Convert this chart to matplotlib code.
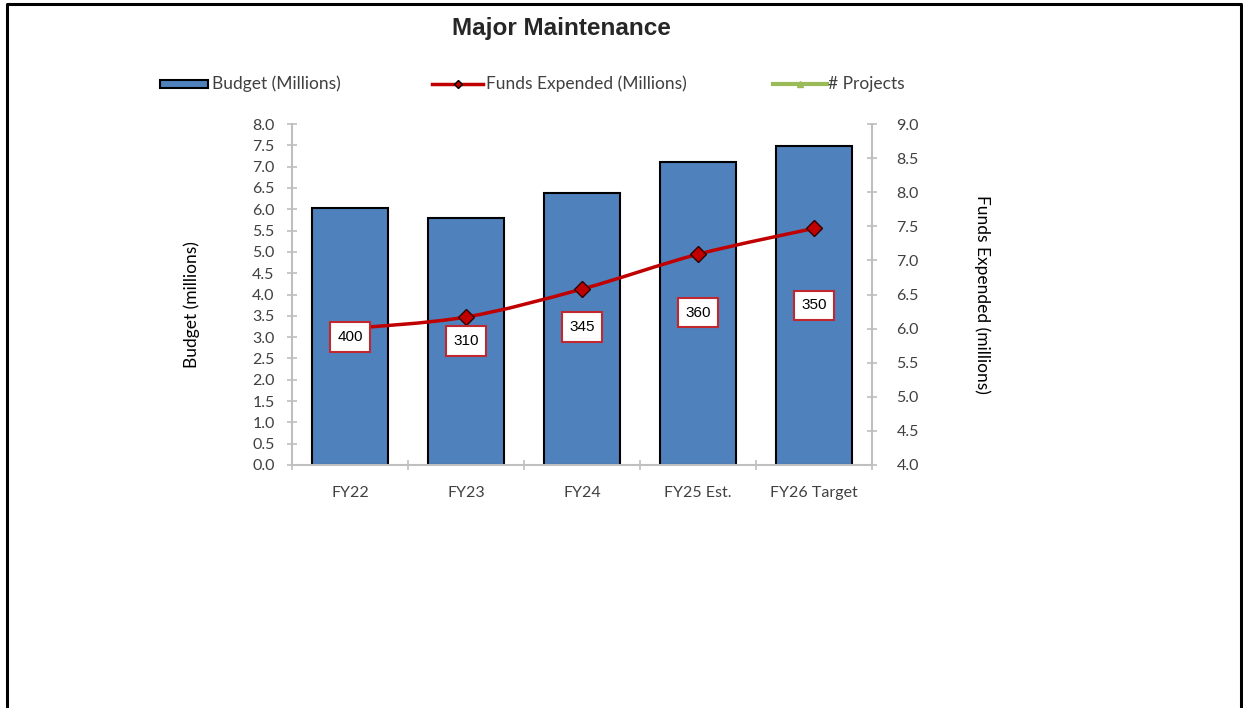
import numpy as np
import matplotlib.pyplot as plt
from matplotlib.path import Path
from matplotlib.patches import PathPatch, Rectangle
from matplotlib.lines import Line2D

# chart data
categories = ['FY22', 'FY23', 'FY24', 'FY25 Est.', 'FY26 Target']
budget = [6.02, 5.80, 6.37, 7.10, 7.49]
funds = [6.00, 6.17, 6.58, 7.09, 7.47]
projects = [400, 310, 345, 360, 350]
# where the project labels sit (left axis units)
project_label_y = [3.0, 2.91, 3.24, 3.57, 3.75]

blue = '#4F81BD'
red = '#C00000'
green = '#9BBB59'
grey = '#BFBFBF'
txt = '#404040'

plt.rcParams['font.family'] = ['Lato', 'DejaVu Sans']

fig = plt.figure(figsize=(12.43, 7.08), dpi=100)
ax = fig.add_axes([292/1243, 1-465/708, 580/1243, 341/708])
ax2 = ax.twinx()

x = np.arange(len(categories))
ax.bar(x, budget, width=0.65, color=blue, edgecolor='black', linewidth=1.5, zorder=2)
ax.set_xlim(-0.5, len(categories)-0.5)
ax.set_ylim(0, 8)
ax.set_yticks(np.arange(0, 8.01, 0.5))
ax.set_yticklabels([f'{v:.1f}' for v in np.arange(0, 8.01, 0.5)])
ax.set_xticks(x)
ax.set_xticklabels(categories)
ax.set_xticks(np.arange(-0.5, len(categories), 1), minor=True)

ax2.set_ylim(4, 9)
ax2.set_yticks(np.arange(4, 9.01, 0.5))
ax2.set_yticklabels([f'{v:.1f}' for v in np.arange(4, 9.01, 0.5)])

# smoothed funds line (Catmull-Rom as bezier segments)
pts = np.column_stack([x, funds]).astype(float)
verts = [pts[0]]
codes = [Path.MOVETO]
for i in range(len(pts)-1):
    p0 = pts[max(i-1, 0)]
    p1 = pts[i]
    p2 = pts[i+1]
    p3 = pts[min(i+2, len(pts)-1)]
    verts += [p1 + (p2-p0)/6, p2 - (p3-p1)/6, p2]
    codes += [Path.CURVE4]*3
ax2.add_patch(PathPatch(Path(verts, codes), facecolor='none', edgecolor=red, lw=2.5, zorder=3))
ax2.plot(x, funds, linestyle='none', marker='D', markersize=8, color=red,
         markeredgecolor='#300000', markeredgewidth=1, zorder=4)

# project count labels, drawn on top of the line
for xi, yi, n in zip(x, project_label_y, projects):
    ax2.text(xi, yi, str(n), ha='center', va='center', fontsize=11,
             family='Liberation Sans', color='black', zorder=6, transform=ax.transData,
             bbox=dict(boxstyle='square,pad=0.5', fc='white', ec='#C0282D', lw=1.5))

for a in (ax, ax2):
    for s in a.spines.values():
        s.set_visible(False)
ax.spines['left'].set_visible(True)
ax.spines['bottom'].set_visible(True)
ax2.spines['right'].set_visible(True)
for s in (ax.spines['left'], ax.spines['bottom'], ax2.spines['right']):
    s.set_color(grey)
    s.set_linewidth(1.5)

ax.tick_params(axis='y', direction='inout', length=7, color=grey, width=1.2,
               labelsize=11.5, labelcolor=txt, pad=9)
ax2.tick_params(axis='y', direction='inout', length=7, color=grey, width=1.2,
                labelsize=11.5, labelcolor=txt, pad=14)
ax.tick_params(axis='x', which='major', length=0, labelsize=11.5, labelcolor=txt, pad=15)
ax.tick_params(axis='x', which='minor', direction='inout', length=7, color=grey, width=1.2)

ax.set_ylabel('Budget (millions)', fontsize=12.5, color='black')
ax.yaxis.set_label_coords(-0.158, 0.47)
ax2.set_ylabel('Funds Expended (millions)', fontsize=12.5, color='black',
               rotation=-90, labelpad=40, va='bottom')

fig.text(561/1243, 1-28/708, 'Major Maintenance', ha='center', va='center',
         fontsize=17.5, fontweight='bold', family='Liberation Sans', color='#262626')

# legend drawn across the top
ly = 1-84/708
fig.add_artist(Rectangle((160/1243, 1-88/708), 48/1243, 8/708, transform=fig.transFigure,
                         fc=blue, ec='black', lw=1.5))
fig.text(212/1243, ly, 'Budget (Millions)', fontsize=12.5, color=txt, va='center')
fig.add_artist(Line2D([432/1243, 483/1243], [ly, ly], transform=fig.transFigure,
                      color=red, lw=2.5))
fig.add_artist(Line2D([458/1243], [ly], transform=fig.transFigure, marker='D',
                      markersize=4, color=red, markeredgecolor='black'))
fig.text(486/1243, ly, 'Funds Expended (Millions)', fontsize=12.5, color=txt, va='center')
fig.add_artist(Line2D([773/1243, 827/1243], [ly, ly], transform=fig.transFigure,
                      color=green, lw=3))
fig.add_artist(Line2D([800/1243], [ly], transform=fig.transFigure, marker='^',
                      markersize=4, color=green))
fig.text(828/1243, ly, '# Projects', fontsize=12.5, color=txt, va='center')

# outer frame
fig.add_artist(Line2D([7/1243, 7/1243, 1241/1243, 1241/1243], [0, 1-4/708, 1-4/708, 0],
                      transform=fig.transFigure, color='black', lw=2.2))

fig.savefig('out.png', dpi=100)
